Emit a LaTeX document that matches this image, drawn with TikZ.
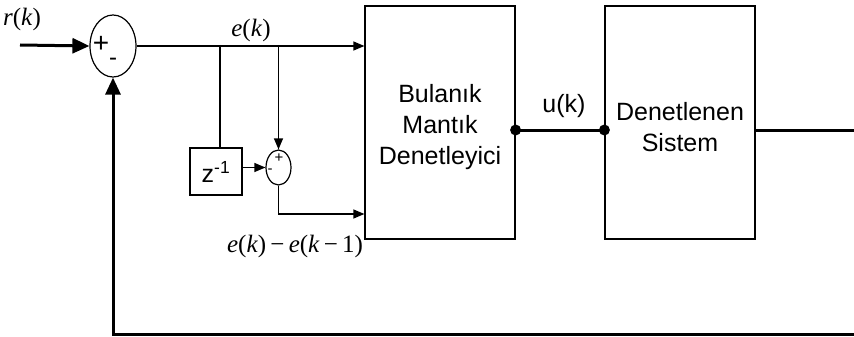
\documentclass[tikz,border=0pt]{standalone}
\usepackage{fontspec}
\setmainfont{Liberation Sans}
\newfontfamily\serifit{Liberation Serif}
\usetikzlibrary{shapes.geometric,arrows.meta}
\begin{document}
\begin{tikzpicture}[x=1pt,y=-1pt,
  blk/.style={draw,line width=1.2pt,inner sep=0pt,minimum width=150pt,minimum height=233pt},
  zblk/.style={draw,line width=1.2pt,inner sep=0pt,minimum width=52pt,minimum height=47pt},
  sumnode/.style={draw,ellipse,line width=1.2pt,inner sep=0pt},
  thin/.style={line width=1.2pt},
  thick3/.style={line width=3pt},
  arr/.style={-{Triangle[length=11pt,width=9pt]}},
  bigarr/.style={-{Triangle[length=17pt,width=15pt]}},
  boxtext/.style={font=\fontsize{25}{31}\selectfont,align=center},
  mathlbl/.style={font=\fontsize{25}{28}\selectfont\serifit},
  dot/.style={circle,fill,inner sep=0pt,minimum size=11pt}
]
\useasboundingbox (0,0) rectangle (854,337);
% nodes
\node[sumnode,minimum width=46pt,minimum height=62pt] (s1) at (113,46) {};
\node[blk] (b1) at (440,122.5) {};
\node[blk] (b2) at (680,122.5) {};
\node[zblk] (z) at (216,171.5) {};
\node[sumnode,minimum width=25pt,minimum height=35pt] (s2) at (278.5,167.5) {};
\node[boxtext] (t1) at (440,127) {Bulanık\\Mantık\\Denetleyici};
\node[boxtext] (t2) at (680,127) {Denetlenen\\Sistem};
\node[font=\fontsize{25}{28}\selectfont] (zt) at (216,171.5) {z\textsuperscript{-1}};
% signs
\node[font=\fontsize{28}{30}\selectfont,inner sep=0pt] (p1) at (101,44) {+};
\node[font=\fontsize{24}{26}\selectfont,inner sep=0pt] (m1) at (113,62) {-};
\node[font=\fontsize{15}{16}\selectfont,inner sep=0pt] (p2) at (279,158) {+};
\node[font=\fontsize{15}{16}\selectfont,inner sep=0pt] (m2) at (270,171) {-};
% labels
\node[mathlbl] (rl) at (22,19) {\textit{r}(\textit{k})};
\node[mathlbl] (el) at (251,30) {\textit{e}(\textit{k})};
\node[mathlbl] (dl) at (295,246) {\textit{e}(\textit{k})\,−\,\textit{e}(\textit{k}\,−\,1)};
\node[font=\fontsize{25}{28}\selectfont] (ul) at (564,106) {u(k)};
% coordinates
\coordinate (in) at (20,45);
\coordinate (br1) at (220,45);
\coordinate (br2) at (278.5,45);
\coordinate (dn) at (278.5,214);
\coordinate (out) at (854,130);
\coordinate (fb) at (854,334);
\coordinate (fbc) at (113,334);
% connectors
\draw[thick3,bigarr] (in) -- (s1.west);
\draw[thin,arr] (s1.east) -- (s1.east -| b1.west);
\draw[thin] (br1) -- (br1 |- z.north);
\draw[thin,arr] (br2) -- (s2.north);
\draw[thin,arr] (z.east |- s2.west) -- (s2.west);
\draw[thin,arr] (s2.south) -- (dn) -- (dn -| b1.west);
\coordinate (u1) at (b1.east |- out);
\coordinate (u2) at (b2.west |- out);
\draw[thick3] (u1) -- (u2);
\node[dot] (d1) at (u1) {};
\node[dot] (d2) at (u2) {};
\draw[thick3] (b2.east |- out) -- (out);
\draw[thick3,bigarr] (fb) -- (fbc) -- (s1.south);
\end{tikzpicture}
\end{document}
